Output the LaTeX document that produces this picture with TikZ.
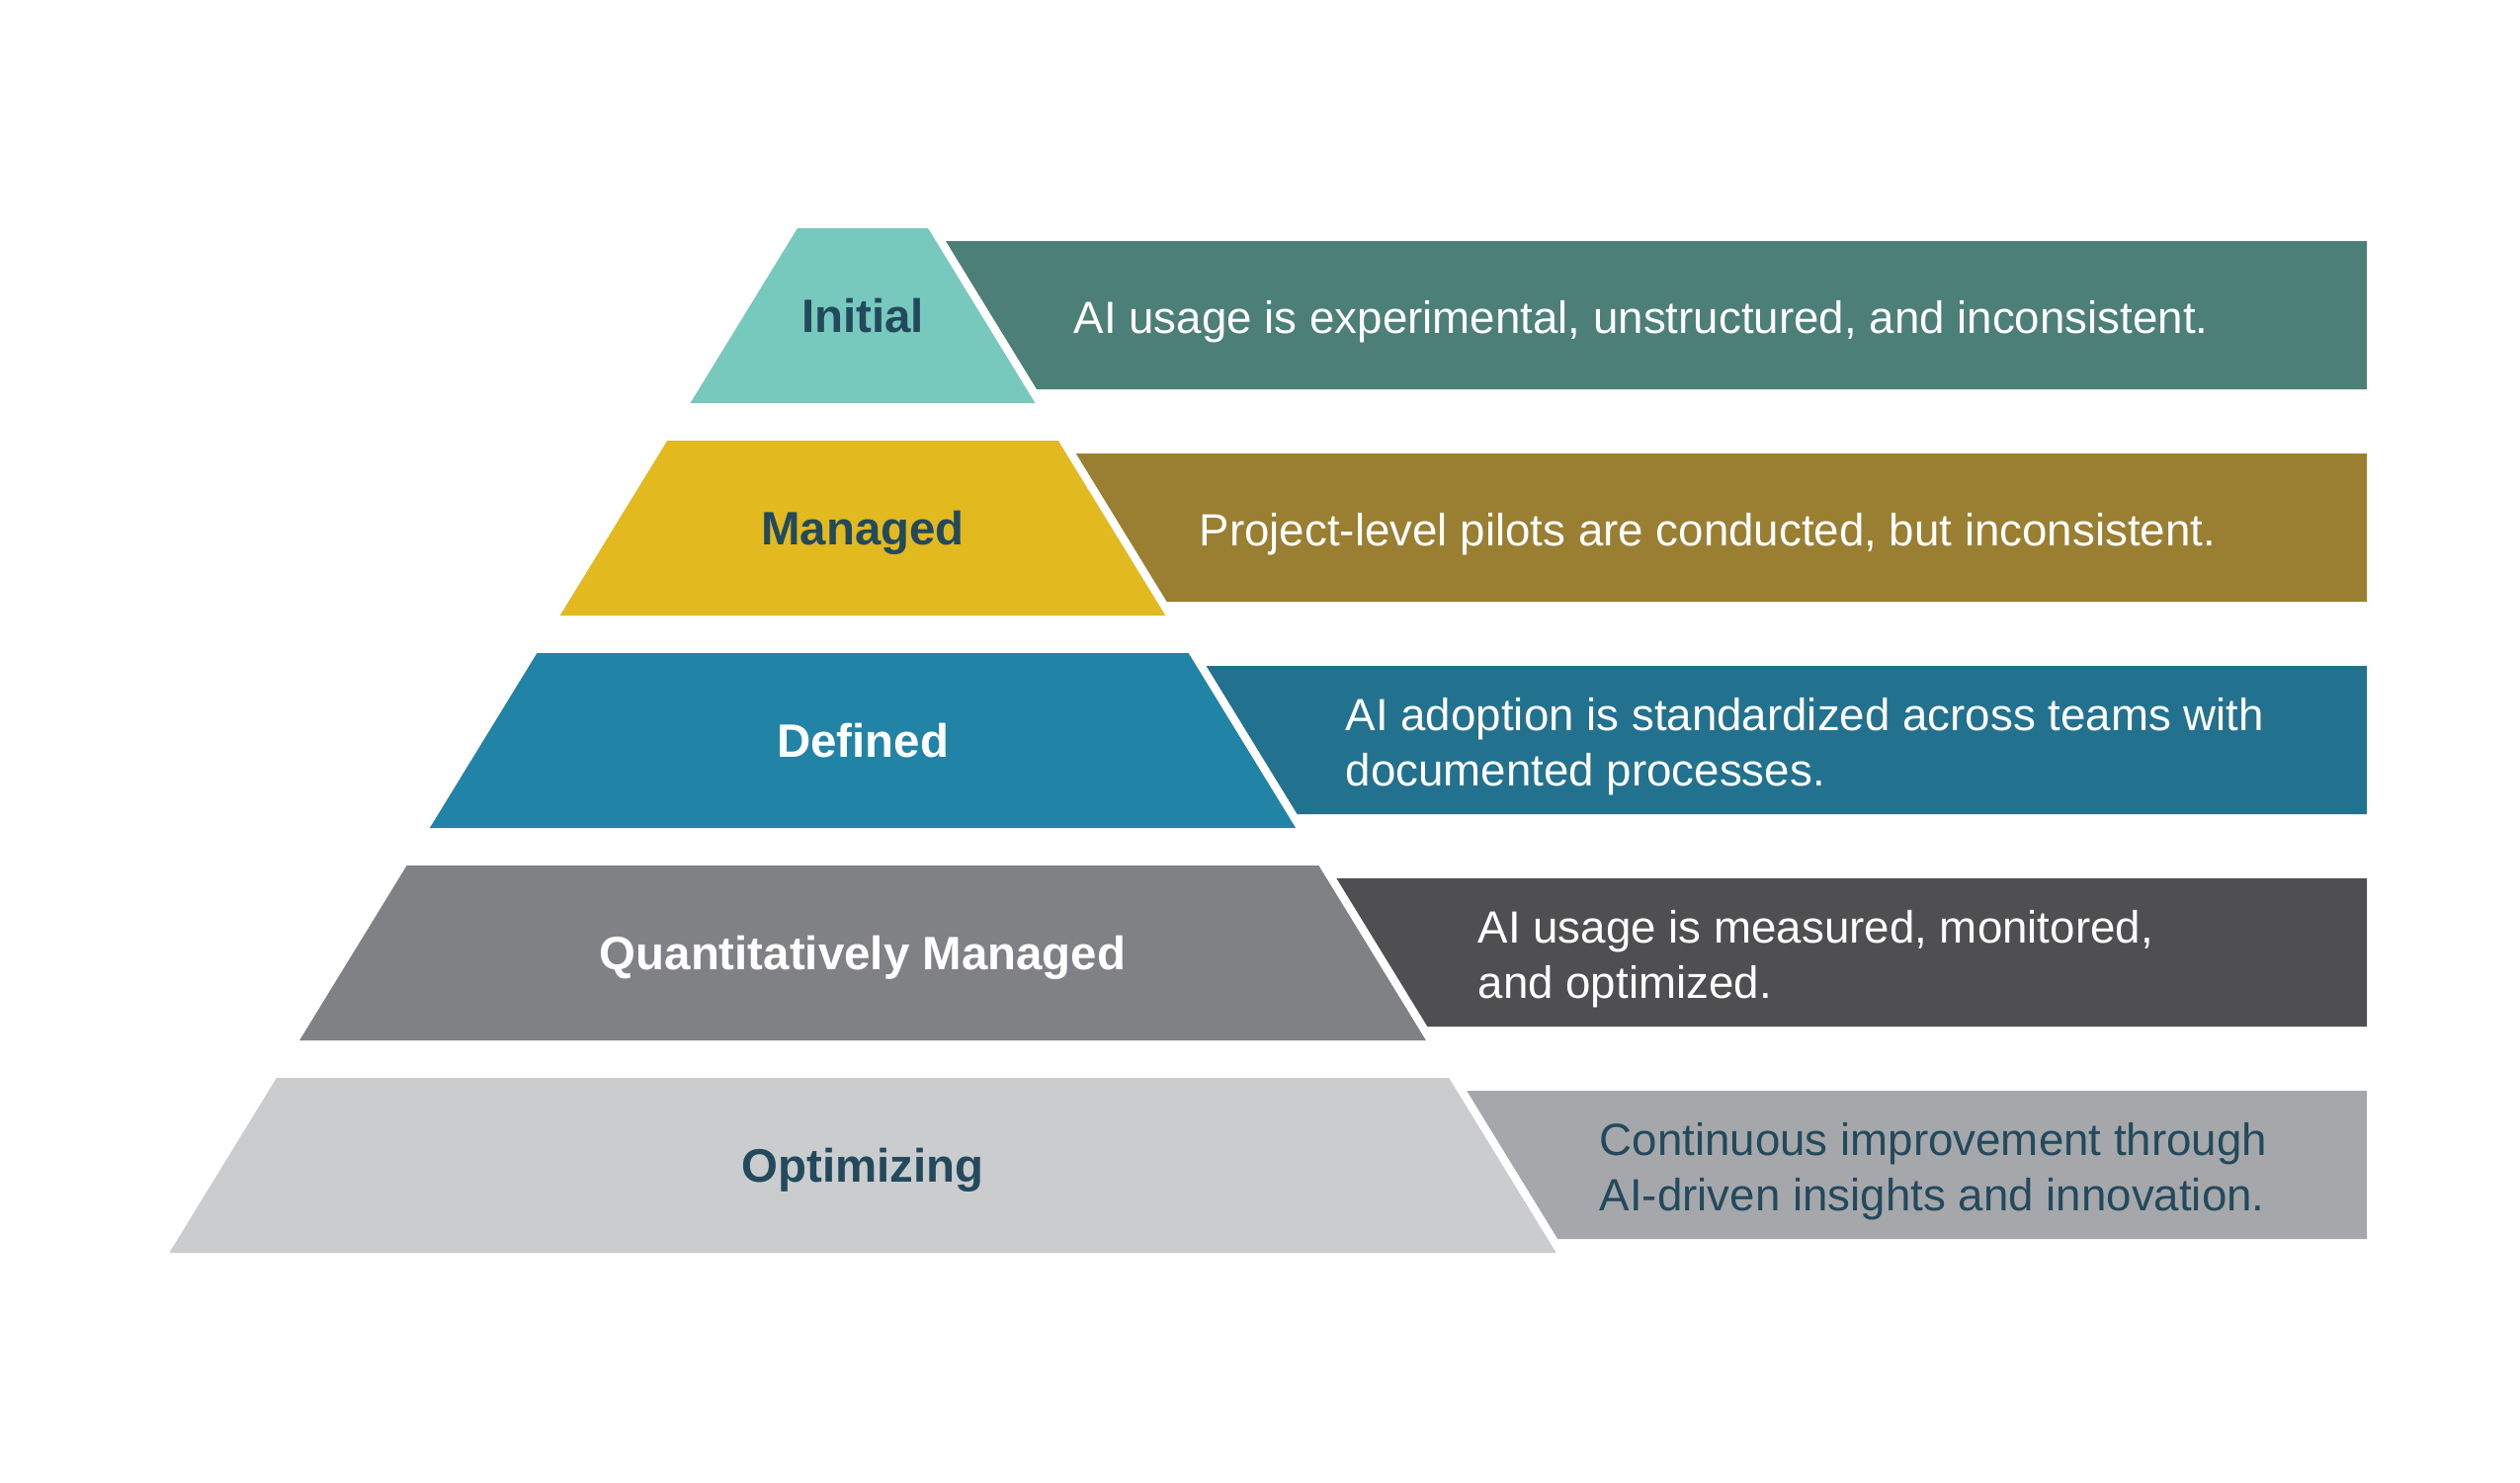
\documentclass[tikz,border=0pt]{standalone}
\usepackage{fontspec}
\setmainfont{Liberation Sans}
\definecolor{initlight}{HTML}{76C9BC}
\definecolor{initdark}{HTML}{4B7F77}
\definecolor{mgdlight}{HTML}{E3B920}
\definecolor{mgddark}{HTML}{9A7F33}
\definecolor{deflight}{HTML}{2183A6}
\definecolor{defdark}{HTML}{21718F}
\definecolor{qtylight}{HTML}{808184}
\definecolor{qtydark}{HTML}{4F4F51}
\definecolor{optlight}{HTML}{CBCCCE}
\definecolor{optdark}{HTML}{A6A7AB}
\definecolor{inkblue}{HTML}{234A5C}
\begin{document}
\begin{tikzpicture}[x=0.1mm, y=-0.1mm,
  lvl/.style={inner sep=0pt, text height=9.7pt, text depth=0pt, font=\fontsize{13.5}{16}\selectfont\bfseries},
  desc/.style={anchor=west, inner sep=0pt, align=left, font=\fontsize{13}{15.9}\selectfont}]
\useasboundingbox (0,0) rectangle (2550,1500);

% Initial
\fill[initlight] (807,231) -- (939,231) -- (1047.5,408) -- (698.5,408) -- cycle;
\fill[initdark] (957,244) -- (2395,244) -- (2395,394) -- (1049,394) -- cycle;
\node[lvl, text=inkblue] (initial) at (873,319.5) {Initial};
\node[desc, text=white] (initialtxt) at (1086,325.5) {AI usage is experimental, unstructured, and inconsistent.};

% Managed
\fill[mgdlight] (675.2,446) -- (1070.8,446) -- (1179.3,623) -- (566.7,623) -- cycle;
\fill[mgddark] (1088.8,459) -- (2395,459) -- (2395,609) -- (1180.7,609) -- cycle;
\node[lvl, text=inkblue] (managed) at (873,534.5) {Managed};
\node[desc, text=white] (managedtxt) at (1213,540.5) {Project-level pilots are conducted, but inconsistent.};

% Defined
\fill[deflight] (543.4,661) -- (1202.6,661) -- (1311.1,838) -- (434.9,838) -- cycle;
\fill[defdark] (1220.6,674) -- (2395,674) -- (2395,824) -- (1312.6,824) -- cycle;
\node[lvl, text=white] (defined) at (873,749.5) {Defined};
\node[desc, text=white] (definedtxt) at (1361,755.5) {AI adoption is standardized across teams with\\documented processes.};

% Quantitatively Managed
\fill[qtylight] (411.6,876) -- (1334.4,876) -- (1442.9,1053) -- (303.1,1053) -- cycle;
\fill[qtydark] (1352.4,889) -- (2395,889) -- (2395,1039) -- (1444.4,1039) -- cycle;
\node[lvl, text=white] (quantitative) at (873,964.5) {Quantitatively Managed};
\node[desc, text=white] (quantitativetxt) at (1495,970.5) {AI usage is measured, monitored,\\and optimized.};

% Optimizing
\fill[optlight] (279.8,1091) -- (1466.2,1091) -- (1574.7,1268) -- (171.3,1268) -- cycle;
\fill[optdark] (1484.2,1104) -- (2395,1104) -- (2395,1254) -- (1576.2,1254) -- cycle;
\node[lvl, text=inkblue] (optimizing) at (873,1179.5) {Optimizing};
\node[desc, text=inkblue] (optimizingtxt) at (1618,1185.5) {Continuous improvement through\\AI-driven insights and innovation.};
\end{tikzpicture}
\end{document}
